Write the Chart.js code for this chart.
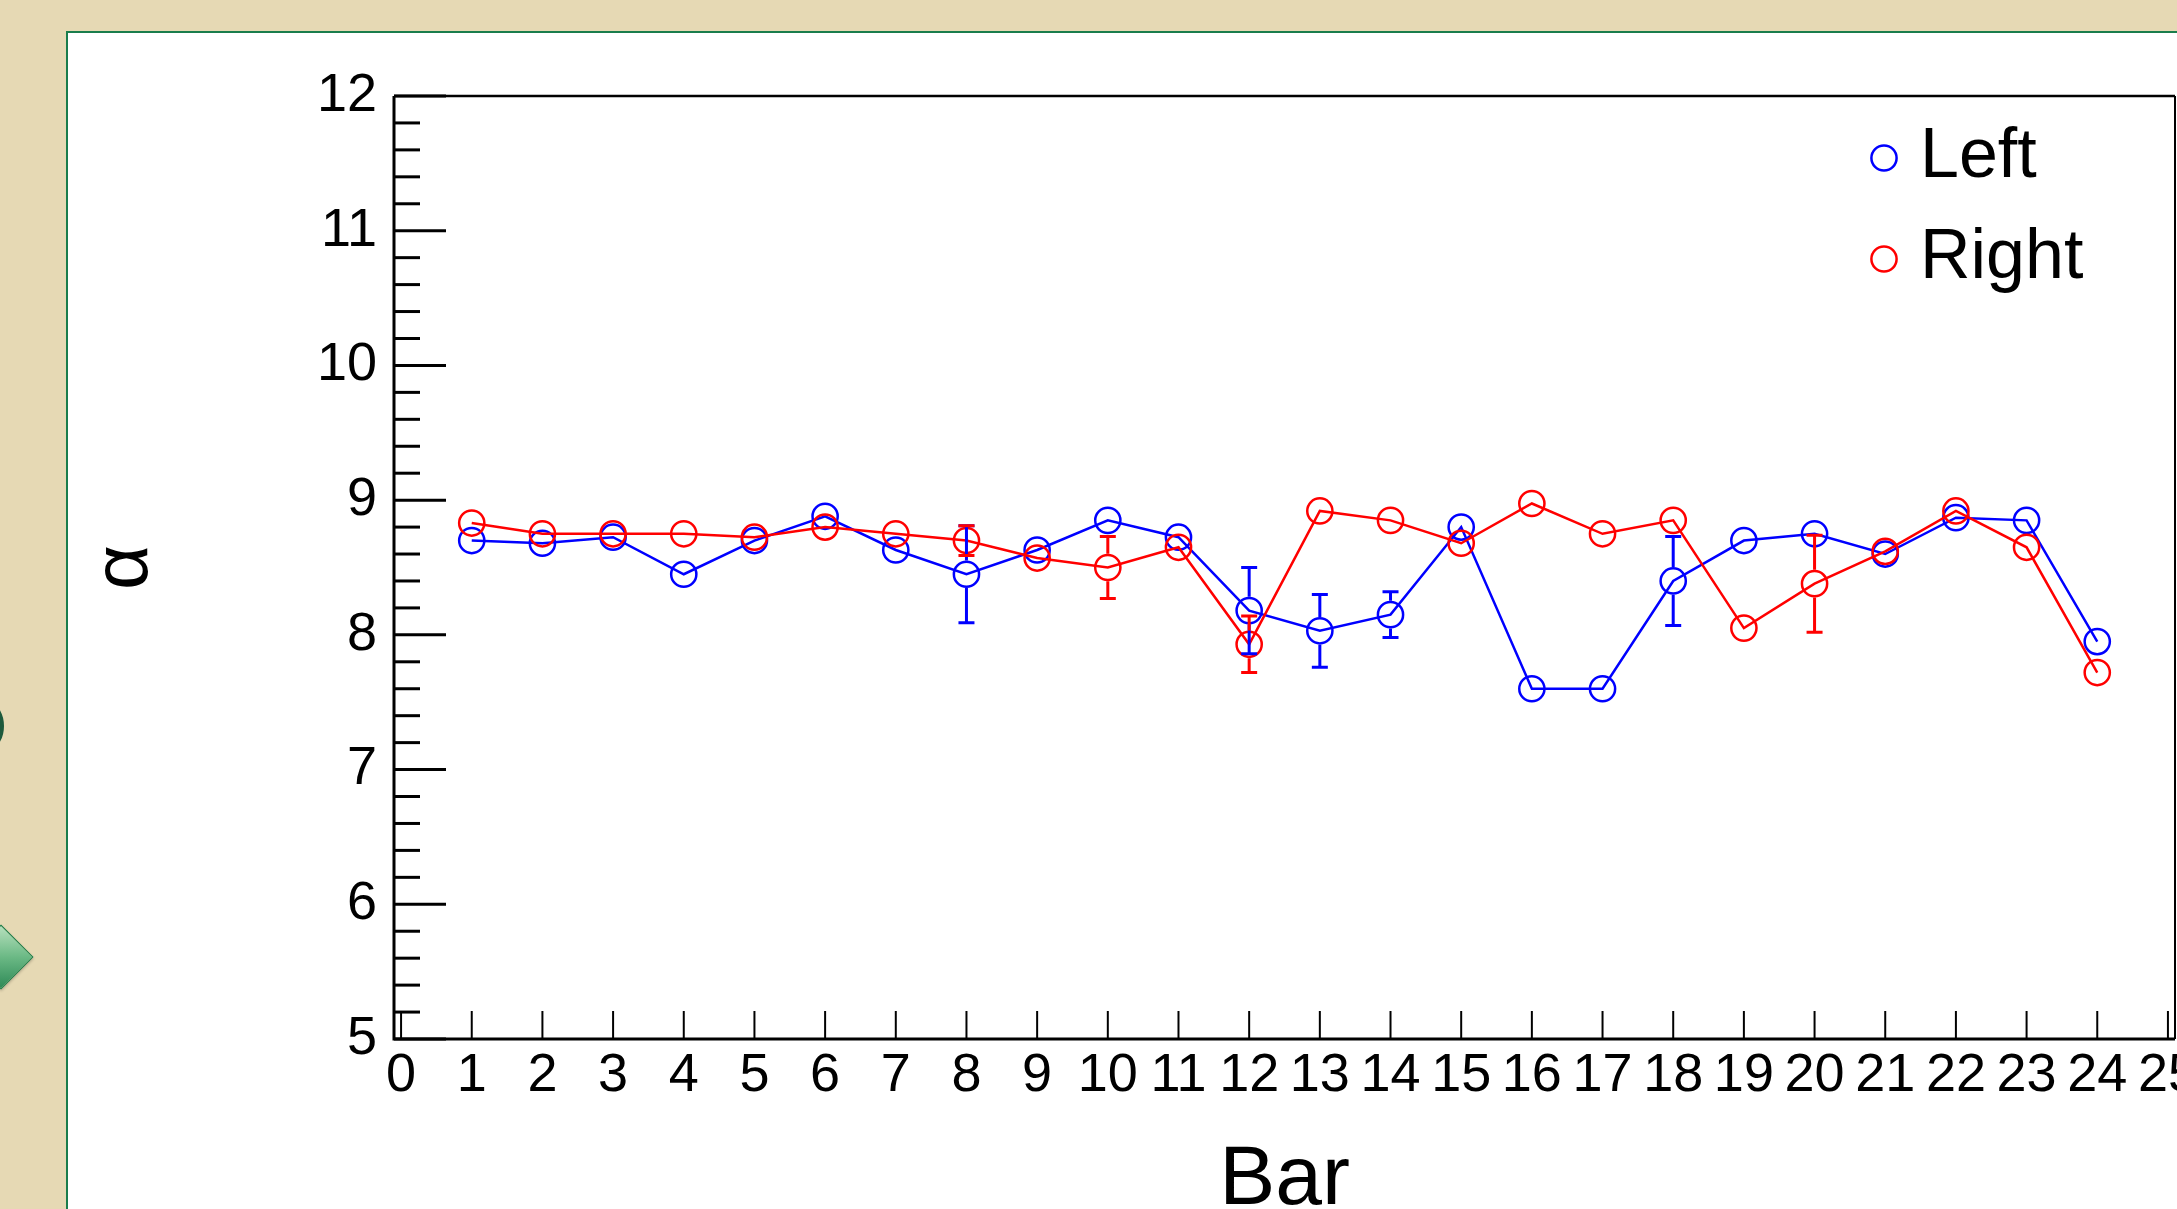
<!DOCTYPE html>
<html>
<head>
<meta charset="utf-8">
<title>alpha vs bar</title>
<script src="https://cdn.jsdelivr.net/npm/chart.js@4/dist/chart.umd.min.js"></script>
<style>
  html, body { margin: 0; padding: 0; }
  body {
    width: 2177px; height: 1209px; overflow: hidden; position: relative;
    background: #e6d9b4;
  }
  #panel {
    position: absolute; left: 66px; top: 31px; width: 2200px; height: 1300px;
    background: #ffffff;
    border-left: 2px solid #1a7d4c; border-top: 2px solid #1a7d4c;
  }
  #diamond {
    position: absolute; left: -22px; top: 934px; width: 44px; height: 44px;
    transform: rotate(45deg);
    background: linear-gradient(135deg, #b7e0bd 0%, #6bb985 50%, #2f8a57 100%);
    border: 1.5px solid #137a45;
    box-shadow: 1px 1px 3px rgba(0,0,0,0.25);
  }
  #ring {
    position: absolute; left: -20px; top: 705px; width: 16px; height: 34px;
    border: 4px solid #1d5a3c; border-radius: 50%;
  }
  #c { position: absolute; left: 0; top: 0; }
</style>
</head>
<body>
<div id="panel"></div>
<div id="diamond"></div>
<div id="ring"></div>
<canvas id="c" width="2177" height="1209"></canvas>
<script>
// Bar index (x) and fitted alpha for the left and right ends of each bar.
const bars = [1, 2, 3, 4, 5, 6, 7, 8, 9, 10, 11, 12, 13, 14, 15, 16, 17, 18, 19, 20, 21, 22, 23, 24];
const leftAlpha  = [8.70, 8.68, 8.725, 8.45, 8.70, 8.88, 8.63, 8.45, 8.63, 8.85, 8.725, 8.18,
                    8.03, 8.15, 8.80, 7.60, 7.60, 8.40, 8.70, 8.75, 8.60, 8.87, 8.85, 7.95];
const leftErr    = [0, 0, 0, 0, 0, 0, 0, 0.36, 0, 0, 0, 0.32,
                    0.27, 0.17, 0, 0, 0, 0.33, 0, 0, 0, 0, 0, 0];
const rightAlpha = [8.83, 8.75, 8.75, 8.75, 8.725, 8.80, 8.75, 8.70, 8.57, 8.50, 8.65, 7.93,
                    8.92, 8.85, 8.68, 8.975, 8.75, 8.85, 8.05, 8.38, 8.62, 8.92, 8.65, 7.72];
const rightErr   = [0, 0, 0, 0, 0, 0, 0, 0.11, 0, 0.23, 0, 0.21,
                    0, 0, 0, 0, 0, 0, 0, 0.36, 0, 0, 0, 0];

// Axis tick values
const xTickValues = [0, 1, 2, 3, 4, 5, 6, 7, 8, 9, 10, 11, 12, 13, 14, 15, 16, 17, 18, 19, 20, 21, 22, 23, 24, 25];
const yTickValues = [5, 6, 7, 8, 9, 10, 11, 12];
const yMinorDivisions = 5;

const seriesLabels = ['Left', 'Right'];
const seriesColors = ['#0000ff', '#ff0000'];
const seriesErrors = [leftErr, rightErr];

const NARROW = "'Liberation Sans Narrow', 'Liberation Sans', Arial, sans-serif";
const MARKER_R = 12.6;
const MARKER_W = 2.5;

function toPoints(values) {
  return bars.map((b, i) => ({ x: b, y: values[i] }));
}

// Frame, ROOT-style inner tick marks, error bars and an in-frame legend
const rootStyle = {
  id: 'rootStyle',
  beforeDatasetsDraw(chart) {
    const { ctx, chartArea: ca, scales: { x, y } } = chart;
    ctx.save();
    ctx.strokeStyle = '#000';
    ctx.lineCap = 'butt';
    // y ticks: major + minor, pointing into the frame
    ctx.lineWidth = 3;
    for (let i = 0; i < yTickValues.length; i++) {
      const v = yTickValues[i];
      const p = y.getPixelForValue(v);
      ctx.beginPath(); ctx.moveTo(ca.left, p); ctx.lineTo(ca.left + 52, p); ctx.stroke();
      if (i < yTickValues.length - 1) {
        const step = (yTickValues[i + 1] - v) / yMinorDivisions;
        for (let k = 1; k < yMinorDivisions; k++) {
          const q = y.getPixelForValue(v + k * step);
          ctx.beginPath(); ctx.moveTo(ca.left, q); ctx.lineTo(ca.left + 26, q); ctx.stroke();
        }
      }
    }
    // x ticks
    ctx.lineWidth = 2;
    for (const v of xTickValues) {
      const p = x.getPixelForValue(v);
      ctx.beginPath(); ctx.moveTo(p, ca.bottom); ctx.lineTo(p, ca.bottom - 28); ctx.stroke();
    }
    // frame
    ctx.lineWidth = 3;
    ctx.beginPath();
    ctx.moveTo(ca.left, ca.top); ctx.lineTo(ca.left, ca.bottom); ctx.lineTo(ca.right, ca.bottom);
    ctx.stroke();
    ctx.lineWidth = 2.5;
    ctx.beginPath(); ctx.moveTo(ca.left, ca.top); ctx.lineTo(ca.right, ca.top); ctx.stroke();
    ctx.lineWidth = 2;
    ctx.beginPath(); ctx.moveTo(ca.right, ca.top); ctx.lineTo(ca.right, ca.bottom); ctx.stroke();
    ctx.restore();
  },
  afterDatasetsDraw(chart) {
    const { ctx, scales: { y } } = chart;
    const outer = MARKER_R + MARKER_W / 2;
    ctx.save();
    ctx.lineWidth = 3;
    chart.data.datasets.forEach((ds, di) => {
      const errs = seriesErrors[di];
      const meta = chart.getDatasetMeta(di);
      ctx.strokeStyle = ds.borderColor;
      meta.data.forEach((pt, j) => {
        const e = errs[j];
        if (!e) return;
        const v = ds.data[j].y;
        const top = y.getPixelForValue(v + e);
        const bot = y.getPixelForValue(v - e);
        if (pt.y - top > outer) {
          ctx.beginPath();
          ctx.moveTo(pt.x, pt.y - outer); ctx.lineTo(pt.x, top);
          ctx.moveTo(pt.x - 8, top); ctx.lineTo(pt.x + 8, top);
          ctx.stroke();
        }
        if (bot - pt.y > outer) {
          ctx.beginPath();
          ctx.moveTo(pt.x, pt.y + outer); ctx.lineTo(pt.x, bot);
          ctx.moveTo(pt.x - 8, bot); ctx.lineTo(pt.x + 8, bot);
          ctx.stroke();
        }
      });
    });
    ctx.restore();
  },
  afterDraw(chart) {
    const { ctx, chartArea: ca } = chart;
    ctx.save();
    const mx = ca.right - 291;
    let my = ca.top + 62;
    chart.data.datasets.forEach((ds) => {
      ctx.strokeStyle = ds.borderColor;
      ctx.lineWidth = MARKER_W;
      ctx.beginPath(); ctx.arc(mx, my, MARKER_R, 0, Math.PI * 2); ctx.stroke();
      ctx.fillStyle = '#000';
      ctx.font = '70px ' + NARROW;
      ctx.textAlign = 'left';
      ctx.textBaseline = 'alphabetic';
      ctx.fillText(ds.label, mx + 36, my + 19);
      my += 101;
    });
    ctx.restore();
  }
};

const chart = new Chart(document.getElementById('c'), {
  type: 'line',
  data: {
    datasets: seriesLabels.map((label, i) => ({
      label,
      data: toPoints(i === 0 ? leftAlpha : rightAlpha),
      borderColor: seriesColors[i],
      borderWidth: 2.5,
      tension: 0,
      fill: false,
      pointStyle: 'circle',
      pointRadius: MARKER_R,
      pointBorderWidth: MARKER_W,
      pointBorderColor: seriesColors[i],
      pointBackgroundColor: 'rgba(0,0,0,0)',
      order: i === 0 ? 1 : 0
    }))
  },
  options: {
    responsive: false,
    animation: false,
    devicePixelRatio: 1,
    layout: { autoPadding: false, padding: { left: 0, top: 96, right: 2, bottom: 0 } },
    plugins: { legend: { display: false }, tooltip: { enabled: false } },
    scales: {
      x: {
        type: 'linear',
        min: -0.1,
        max: 25.1,
        grid: { display: false, drawTicks: false },
        border: { display: false },
        afterBuildTicks(scale) { scale.ticks = xTickValues.map(v => ({ value: v })); },
        afterFit(scale) {
          scale.height = 170;
          scale.paddingLeft = 0; scale.paddingRight = 0;
        },
        ticks: {
          autoSkip: false, maxRotation: 0, minRotation: 0, padding: 5,
          color: '#000', font: { family: NARROW, size: 54 }
        },
        title: {
          display: true, text: 'Bar', color: '#000',
          font: { family: NARROW, size: 84, lineHeight: 0.66 },
          padding: { top: 0, bottom: 0 }
        }
      },
      y: {
        type: 'linear',
        min: 5,
        max: 12,
        grid: { display: false, drawTicks: false },
        border: { display: false },
        afterBuildTicks(scale) { scale.ticks = yTickValues.map(v => ({ value: v })); },
        afterFit(scale) {
          scale.width = 394;
          scale.paddingTop = 0; scale.paddingBottom = 0;
        },
        ticks: {
          padding: 17, color: '#000', font: { family: NARROW, size: 54 }
        },
        title: {
          display: true, text: 'α', color: '#000',
          font: { family: "'Liberation Sans', Arial, sans-serif", size: 78, lineHeight: 1 },
          padding: { top: 86, bottom: 0 }
        }
      }
    }
  },
  plugins: [rootStyle]
});
</script>
</body>
</html>
